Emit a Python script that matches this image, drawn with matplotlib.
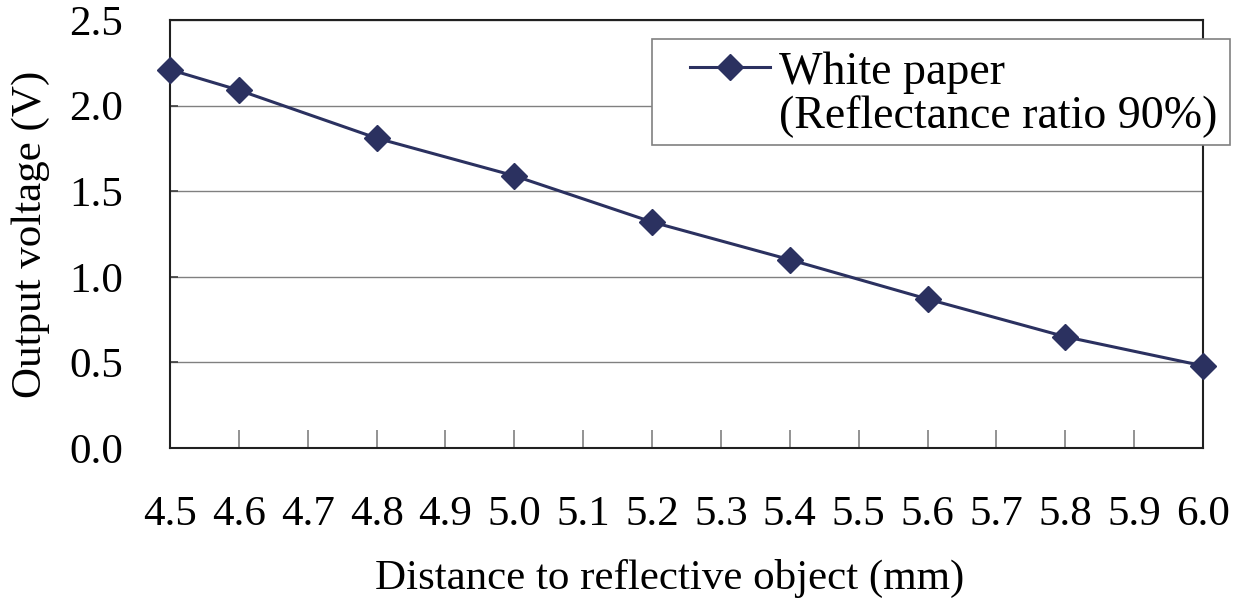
import numpy as np
import matplotlib
matplotlib.use("Agg")
import matplotlib.pyplot as plt
from matplotlib.patches import Rectangle
from matplotlib.lines import Line2D

# data
distance = [4.5, 4.6, 4.8, 5.0, 5.2, 5.4, 5.6, 5.8, 6.0]
voltage = [2.21, 2.09, 1.81, 1.59, 1.32, 1.10, 0.87, 0.65, 0.48]
xticks = [4.5, 4.6, 4.7, 4.8, 4.9, 5.0, 5.1, 5.2, 5.3, 5.4, 5.5, 5.6, 5.7, 5.8, 5.9, 6.0]
yticks = [0.0, 0.5, 1.0, 1.5, 2.0, 2.5]
series_label = ["White paper", "(Reflectance ratio 90%)"]

matplotlib.rcParams.update({'font.family': 'Liberation Serif', 'font.size': 31})

W, H = 1248, 600
fig = plt.figure(figsize=(12.48, 6), dpi=100)
ax = fig.add_axes([170 / W, 1 - 448 / H, 1033 / W, 428 / H])

line_color = "#2B3160"
series_line, = ax.plot(distance, voltage, color=line_color, linewidth=2.2, marker="D",
                       markersize=13, clip_on=False, zorder=5)

ax.set_xlim(4.5, 6.0)
ax.set_ylim(0.0, 2.5)
ax.set_xticks(xticks)
ax.set_xticklabels([f"{v:.1f}" for v in xticks])
ax.set_yticks(yticks)
ax.set_yticklabels([f"{v:.1f}" for v in yticks])
ax.tick_params(axis="x", direction="in", length=13, width=1.2, color="#808080", pad=34)
ax.tick_params(axis="y", direction="in", length=6, width=1.2, color="#404040", pad=34)
ax.yaxis.grid(True, color="#808080", linewidth=1.0)
ax.set_axisbelow(True)
for s in ax.spines.values():
    s.set_linewidth(1.5)
    s.set_color("#202020")

ax.set_xlabel("Distance to reflective object (mm)")
ax.xaxis.set_label_coords((670 - 170) / 1033, -(578 - 448) / 428)
ax.xaxis.label.set_va("center")
ax.set_ylabel("Output voltage (V)")
ax.yaxis.set_label_coords(-(170 - 31) / 1033, 0.5)
ax.yaxis.label.set_va("center")

# legend box drawn by hand, it sticks out past the axes on the right
fig.patches.append(Rectangle((652 / W, 1 - 145 / H), (1230 - 652) / W, (145 - 39) / H,
                             transform=fig.transFigure, facecolor="white",
                             edgecolor="#808080", linewidth=1.2, zorder=10))
blank = Line2D([], [], linestyle="none")
leg = fig.legend([series_line, blank], series_label,
                 loc="upper left", bbox_to_anchor=(690 / W, 1 - 51 / H),
                 frameon=False, borderpad=0, borderaxespad=0, fontsize=33,
                 handlelength=1.75, handletextpad=0.2, labelspacing=0.05)
leg.set_zorder(11)

plt.savefig("out.png", dpi=100)
